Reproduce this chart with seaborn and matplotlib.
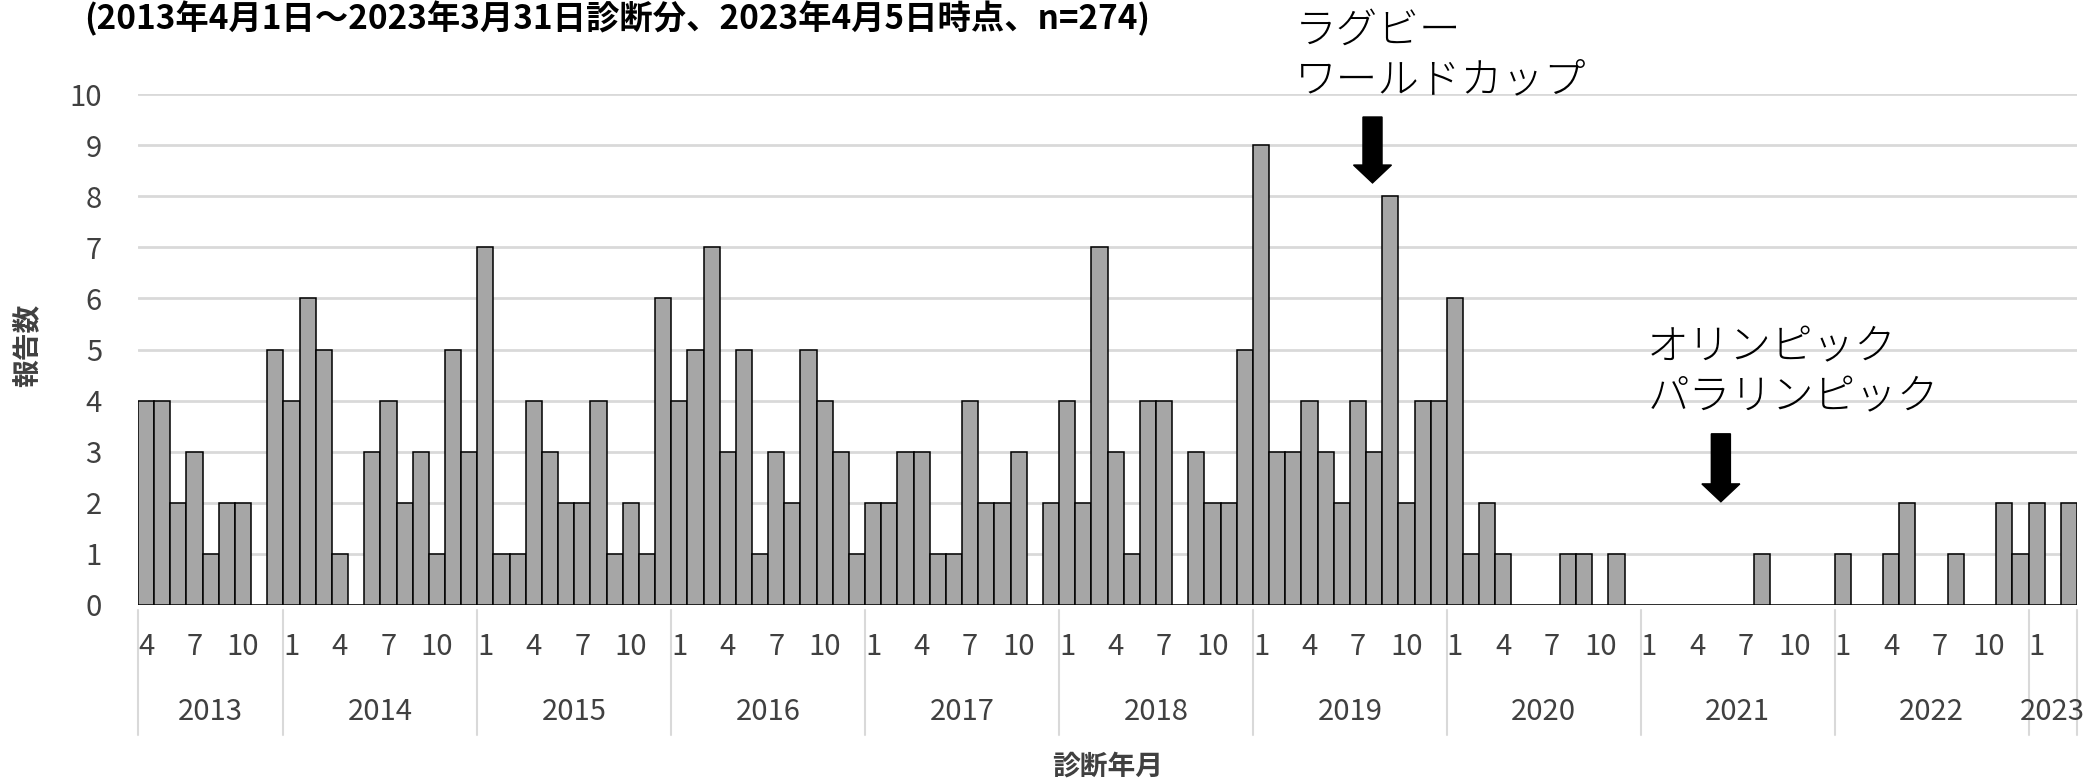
import numpy as np
import pandas as pd
import seaborn as sns
import matplotlib
matplotlib.use('Agg')
import matplotlib.pyplot as plt
import matplotlib.transforms as mtransforms

# monthly report counts, Apr 2013 - Mar 2023
counts_2013 = [4, 4, 2, 3, 1, 2, 2, 0, 5]             # Apr-Dec
counts_2014 = [4, 6, 5, 1, 0, 3, 4, 2, 3, 1, 5, 3]
counts_2015 = [7, 1, 1, 4, 3, 2, 2, 4, 1, 2, 1, 6]
counts_2016 = [4, 5, 7, 3, 5, 1, 3, 2, 5, 4, 3, 1]
counts_2017 = [2, 2, 3, 3, 1, 1, 4, 2, 2, 3, 0, 2]
counts_2018 = [4, 2, 7, 3, 1, 4, 4, 0, 3, 2, 2, 5]
counts_2019 = [9, 3, 3, 4, 3, 2, 4, 3, 8, 2, 4, 4]
counts_2020 = [6, 1, 2, 1, 0, 0, 0, 1, 1, 0, 1, 0]
counts_2021 = [0, 0, 0, 0, 0, 0, 0, 1, 0, 0, 0, 0]
counts_2022 = [1, 0, 0, 1, 2, 0, 0, 1, 0, 0, 2, 1]
counts_2023 = [2, 0, 2]                               # Jan-Mar

years = [2013, 2014, 2015, 2016, 2017, 2018, 2019, 2020, 2021, 2022, 2023]
first_month = [4, 1, 1, 1, 1, 1, 1, 1, 1, 1, 1]
month_ticks = [1, 4, 7, 10]

title = "(2013年4月1日～2023年3月31日診断分、2023年4月5日時点、n=274)"
ylabel = "報告数"
xlabel = "診断年月"
events = ["ラグビー\nワールドカップ", "オリンピック\nパラリンピック"]

# build long table
all_counts = [counts_2013, counts_2014, counts_2015, counts_2016, counts_2017, counts_2018,
              counts_2019, counts_2020, counts_2021, counts_2022, counts_2023]
rows = []
for y, m0, cs in zip(years, first_month, all_counts):
    for k, c in enumerate(cs):
        rows.append({"year": y, "month": m0 + k, "count": c})
df = pd.DataFrame(rows)
df["ym"] = df["year"].astype(str) + "-" + df["month"].astype(str).str.zfill(2)

sns.set_theme(style="white")
plt.rcParams['font.family'] = ['Noto Sans CJK JP', 'DejaVu Sans']

W, H = 2092, 784
fig = plt.figure(figsize=(W / 100, H / 100), dpi=100)
# plot area in pixels: x 138..2077, y 94..605
ax = fig.add_axes([138 / W, (H - 605) / H, (2077 - 138) / W, (605 - 94) / H])

sns.barplot(data=df, x="ym", y="count", order=list(df["ym"]), color="#a6a6a6",
            saturation=1, edgecolor="black", linewidth=1.1, width=1.0, ax=ax)

ax.set_ylim(0, 10)
ax.set_xlim(-0.5, len(df) - 0.5)
ax.set_yticks(range(0, 11))
ax.yaxis.grid(True, color="#d9d9d9", linewidth=2)
ax.set_axisbelow(True)
for s in ax.spines.values():
    s.set_visible(False)
ax.tick_params(axis="y", length=0, labelsize=21, pad=26, labelcolor="#404040")
ax.set_xticks([])
ax.set_xlabel("")
ax.set_ylabel("")

# two-level x axis: months, years and separators
trans = mtransforms.blended_transform_factory(ax.transData, ax.transAxes)
for i, (y, m) in enumerate(zip(df["year"], df["month"])):
    if m in month_ticks:
        ax.text(i, -0.082, str(m), transform=trans, ha="center", va="center",
                fontsize=21, color="#404040")
idx = np.arange(len(df))
for y in years:
    sel = idx[df["year"] == y]
    ax.text(sel.mean(), -0.209, str(y), transform=trans, ha="center", va="center",
            fontsize=21, color="#404040")
    ax.plot([sel[0] - 0.5] * 2, [-0.01, -0.254], transform=trans, clip_on=False,
            color="#d9d9d9", linewidth=1.5)
ax.plot([len(df) - 0.5] * 2, [-0.01, -0.254], transform=trans, clip_on=False,
        color="#d9d9d9", linewidth=1.5)

ax.text(0.5, -0.317, xlabel, transform=ax.transAxes, ha="center", va="center",
        fontsize=20, color="#404040", fontweight="bold")
fig.text(28.5 / W, 1 - 345 / H, ylabel, rotation=90, ha="center", va="center",
         fontsize=20, color="#404040", fontweight="bold")
fig.text(617 / W, 1 - 1 / H, title, ha="center", va="top", fontsize=24,
         fontweight="bold", color="black")

# event annotations
ax.text(71.1, 10.75, events[0], ha="left", va="center", fontsize=30,
        fontweight="light", linespacing=1.2, color="black", clip_on=False)
ax.arrow(75.9, 9.55, 0, -1.29, width=1.18, head_width=2.35, head_length=0.35,
         length_includes_head=True, color="black", clip_on=False)
ax.text(92.9, 4.55, events[1], ha="left", va="center", fontsize=30,
        fontweight="light", linespacing=1.2, color="black", clip_on=False)
ax.arrow(97.46, 3.35, 0, -1.33, width=1.18, head_width=2.35, head_length=0.35,
         length_includes_head=True, color="black", clip_on=False)

fig.savefig("out.png", dpi=100)
